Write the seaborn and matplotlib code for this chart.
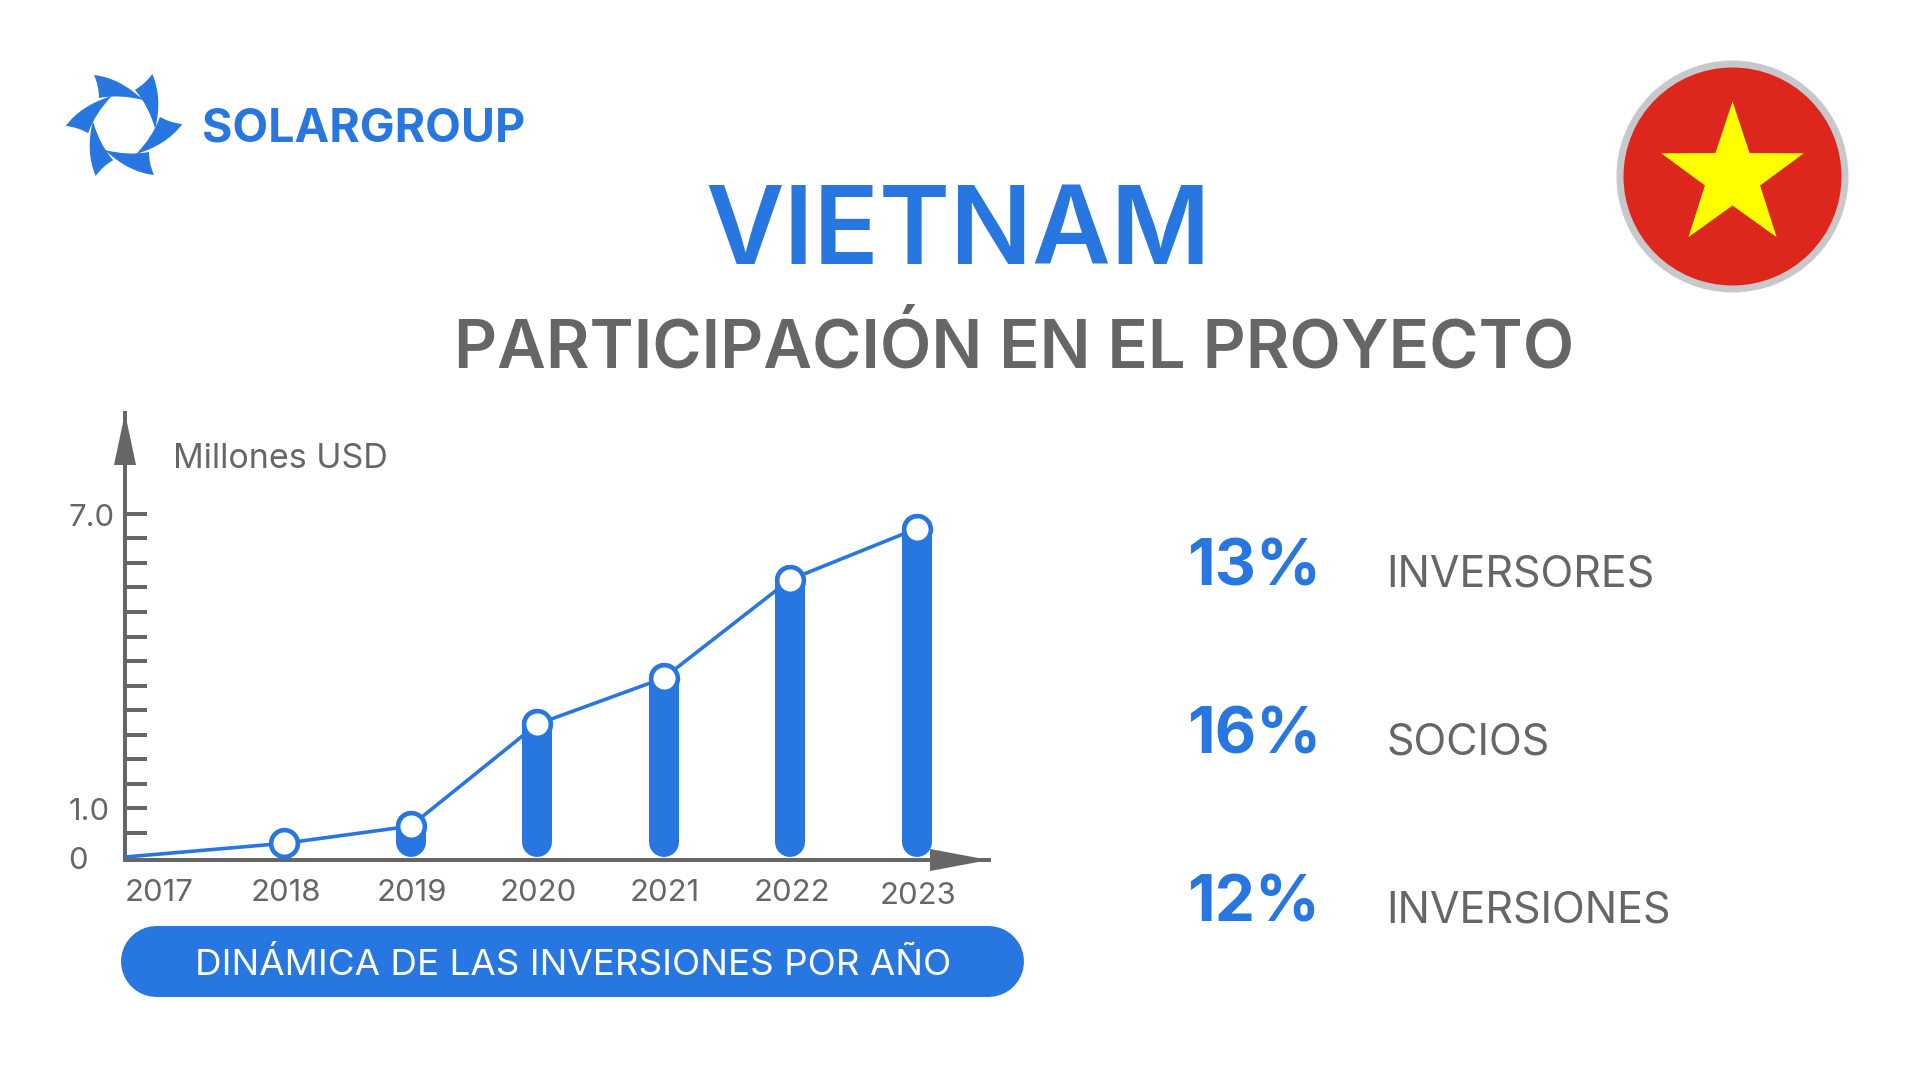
import numpy as np
import pandas as pd
import matplotlib
matplotlib.use("Agg")
import matplotlib.pyplot as plt
from matplotlib.patches import Circle, PathPatch, Polygon
from matplotlib.path import Path
from matplotlib.transforms import ScaledTranslation
import seaborn as sns

# Data
line_x = [2016.74, 2018, 2019, 2020, 2021, 2022, 2023]
line_values = [0.0, 0.28, 0.63, 2.71, 3.65, 5.66, 6.7]
marker_years = [2018, 2019, 2020, 2021, 2022, 2023]
marker_values = [0.28, 0.63, 2.71, 3.65, 5.66, 6.7]
bar_years = [2019, 2020, 2021, 2022, 2023]
bar_values = [0.63, 2.71, 3.65, 5.66, 6.7]
tick_years = [2017, 2018, 2019, 2020, 2021, 2022, 2023]
stat_values = ["13%", "16%", "12%"]
stat_names = ["INVERSORES", "SOCIOS", "INVERSIONES"]

BLUE = "#2876e0"
GRAY = "#666666"
PX = 0.72  # points per pixel at dpi 100

sns.set_theme(style="white")
plt.rcParams["font.family"] = ["Inter", "DejaVu Sans"]

fig = plt.figure(figsize=(19.2, 10.8), dpi=100, facecolor="white")

# overlay in pixel coordinates for logo, flag and text
bg = fig.add_axes([0, 0, 1, 1], zorder=0)
bg.set_xlim(0, 1920)
bg.set_ylim(1080, 0)
bg.axis("off")

# chart axes, left 125 px, right 989 px, top 413 px, bottom 860 px
ax = fig.add_axes([125 / 1920, 1 - 860 / 1080, 864 / 1920, 447 / 1080], zorder=1)
ax.patch.set_alpha(0)

df_bars = pd.DataFrame({"year": bar_years, "value": bar_values})
sns.barplot(data=df_bars, x="year", y="value", native_scale=True, width=0.237,
            color=BLUE, saturation=1, ax=ax, zorder=2)

# swap the square bars for thick lines with round caps, the top cap sits behind the marker
cap = 15 / 49  # half the bar width, in y units
for bar in list(ax.patches):
    xc, y0, h = bar.get_x() + bar.get_width() / 2, bar.get_y(), bar.get_height()
    bar.remove()
    ax.plot([xc, xc], [y0 + cap, y0 + h], color=BLUE, linewidth=30 * PX,
            solid_capstyle="round", zorder=2)

sns.lineplot(x=line_x, y=line_values, color=BLUE, linewidth=3.6 * PX, ax=ax, zorder=3,
             estimator=None, sort=False)
sns.scatterplot(x=marker_years, y=marker_values, s=370, color="white", edgecolor=BLUE,
                linewidth=4.6 * PX, ax=ax, zorder=4, clip_on=False)

ax.set_xlim(2018 + (125 - 284) / 126.5, 2018 + (989 - 284) / 126.5)
ax.set_ylim(-0.06, 9.06)
ax.set_xlabel("")
ax.set_ylabel("")

y_ticks = np.arange(0, 14.5) / 2
ax.set_yticks(y_ticks)
ax.set_yticklabels(["0" if t == 0 else "1.0" if t == 1 else "7.0" if t == 7 else "" for t in y_ticks],
                   ha="left")
ax.tick_params(axis="y", direction="in", length=22 * PX, width=4 * PX, color=GRAY,
               labelcolor=GRAY, labelsize=31 * PX, pad=57 * PX, left=True)
ax.yaxis.get_major_ticks()[0].tick1line.set_visible(False)
for lab in ax.get_yticklabels():
    lab.set_transform(lab.get_transform() + ScaledTranslation(0, -1 / 100, fig.dpi_scale_trans))

ax.set_xticks(tick_years)
ax.set_xticklabels([str(y) for y in tick_years])
ax.tick_params(axis="x", length=0, labelcolor=GRAY, labelsize=31 * PX, pad=19 * PX)
for lab in ax.get_xticklabels():
    lab.set_transform(lab.get_transform() + ScaledTranslation(1.5 / 100, 0, fig.dpi_scale_trans))
last = ax.get_xticklabels()[-1]
last.set_transform(last.get_transform() + ScaledTranslation(0, -2.5 / 100, fig.dpi_scale_trans))

sns.despine(ax=ax, top=True, right=True)
for side in ["left", "bottom"]:
    ax.spines[side].set_color(GRAY)
    ax.spines[side].set_linewidth(4 * PX)

# axis arrow heads
bg.add_patch(Polygon([(125, 413), (114, 465), (136, 465)], fc=GRAY, ec="none"))
bg.add_patch(Polygon([(989, 860), (930, 849), (930, 871)], fc=GRAY, ec="none"))

bg.text(173, 459, "Millones USD", color=GRAY, fontsize=34 * PX, va="center", ha="left")

# caption pill
bg.plot([156, 988], [961, 961], color=BLUE, linewidth=71 * PX, solid_capstyle="round")
bg.text(573, 965, "DINÁMICA DE LAS INVERSIONES POR AÑO", color="white", fontsize=36.8 * PX,
        va="center", ha="center")

# headings
bg.text(958, 235, "VIETNAM", color=BLUE, fontsize=108 * PX, va="center", ha="center", weight=600)
bg.text(1014, 349, "PARTICIPACIÓN EN EL PROYECTO", color=GRAY, fontsize=67 * PX, va="center",
        ha="center", weight=600)

# shares on the right
for value, name, y in zip(stat_values, stat_names, [568, 736, 904]):
    bg.text(1187, y, value, color=BLUE, fontsize=64 * PX, va="center", ha="left", weight="bold")
    bg.text(1386, y + 7, name, color=GRAY, fontsize=43 * PX, va="center", ha="left")

# logo, six blades around a circle
blade_verts = np.array([(-30, -50), (-4, -47), (19, -25), (-4, -31), (-25, -27), (-25, -39), (-30, -50)], float)
blade_codes = [Path.MOVETO, Path.CURVE3, Path.CURVE3, Path.CURVE3, Path.CURVE3, Path.CURVE3, Path.CURVE3]
for i in range(6):
    a = np.deg2rad(60 * i)
    rot = np.array([[np.cos(a), -np.sin(a)], [np.sin(a), np.cos(a)]])
    verts = blade_verts @ rot.T + [124, 125]
    bg.add_patch(PathPatch(Path(verts, blade_codes), fc=BLUE, ec="none"))
bg.text(202, 130, "SOLARGROUP", color=BLUE, fontsize=46.5 * PX, va="center", ha="left", weight="bold")

# flag
bg.add_patch(Circle((1732.5, 176.5), 116, fc="#c8c8cc", ec="none"))
bg.add_patch(Circle((1732.5, 176.5), 109, fc="#dd271c", ec="none"))
star_r = np.array([75, 29] * 5)
star_a = np.deg2rad(-90 + 36 * np.arange(10))
bg.add_patch(Polygon(np.c_[1732.5 + star_r * np.cos(star_a), 176.5 + star_r * np.sin(star_a)],
                     fc="#ffff00", ec="none"))

fig.savefig("out.png", dpi=100)
